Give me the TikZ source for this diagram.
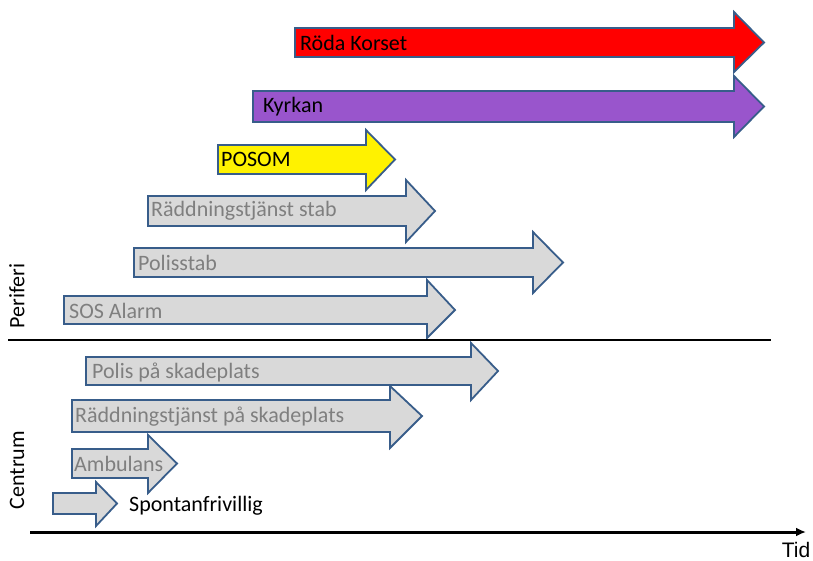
\documentclass[tikz,border=0pt]{standalone}
\usepackage{fontspec}
\usetikzlibrary{arrows.meta}
\setmainfont{Carlito}
\newfontfamily\arialfont{Liberation Sans}
\definecolor{bordc}{RGB}{56,93,138}
\definecolor{greyfill}{RGB}{217,217,217}
\definecolor{greytext}{RGB}{127,127,127}
\definecolor{purplefill}{RGB}{153,85,204}
\newcommand\blockarr[8]{%
  % #1 style, #2 left, #3 top, #4 bottom, #5 head base, #6 head top, #7 head bottom, #8 tip
  \draw[#1] (#2,#3) -- (#5,#3) -- (#5,#6) -- (#8,{(#3+#4)/2}) -- (#5,#7) -- (#5,#4) -- (#2,#4) -- cycle;}
\tikzset{
  arrbox/.style={draw=bordc, line width=1.8pt, line join=miter},
  greyarr/.style={arrbox, fill=greyfill},
  lbl/.style={anchor=west, inner sep=0pt, font=\fontsize{22}{24}\selectfont},
  greylbl/.style={lbl, text=greytext},
}
\begin{document}
\begin{tikzpicture}[x=1pt,y=-1pt]
\useasboundingbox (0,0) rectangle (813,560);
% Röda Korset
\blockarr{arrbox, fill=red}{295}{28}{57}{734}{12}{72}{764}
\node[lbl] (rk) at (300,42.5) {Röda Korset};
% Kyrkan
\blockarr{arrbox, fill=purplefill}{253}{91}{122}{734}{76}{137}{764}
\node[lbl] (ky) at (263,106.5) {Kyrkan};
% POSOM
\blockarr{arrbox, fill=yellow}{218}{145}{174}{366}{130}{190}{395}
\node[lbl] (po) at (221,159.5) {POSOM};
% Räddningstjänst stab
\blockarr{greyarr}{148}{196}{226}{406}{180}{242}{435}
\node[greylbl] (rs) at (151,211) {Räddningstjänst stab};
% Polisstab
\blockarr{greyarr}{134}{248}{277}{533}{232}{293}{563}
\node[greylbl] (ps) at (138,263) {Polisstab};
% SOS Alarm
\blockarr{greyarr}{64}{296}{324}{427}{280}{338}{455}
\node[greylbl] (sos) at (69,311) {SOS Alarm};
% divider
\draw[line width=1.8pt] (8,340) coordinate (d1) -- (771,340) coordinate (d2);
% Polis på skadeplats
\blockarr{greyarr}{86}{357}{385}{471}{343}{400}{498}
\node[greylbl] (pp) at (92,372) {Polis på skadeplats};
% Räddningstjänst på skadeplats
\blockarr{greyarr}{72}{400}{432}{390}{386}{448}{422}
\node[greylbl] (rp) at (75,417) {Räddningstjänst på skadeplats};
% Ambulans
\blockarr{greyarr}{72}{449}{478}{148}{435}{493}{177}
\node[greylbl] (am) at (74,464) {Ambulans};
% Spontanfrivillig
\blockarr{greyarr}{53}{493}{514}{96}{482}{526}{117}
\node[lbl] (sp) at (129,506) {Spontanfrivillig};
% side labels
\node[rotate=90, font=\fontsize{22}{24}\selectfont, inner sep=0pt] (per) at (17,296) {Periferi};
\node[rotate=90, font=\fontsize{22}{24}\selectfont, inner sep=0pt] (cen) at (17,470) {Centrum};
% time axis
\coordinate (t0) at (30,532);
\coordinate (t1) at (806,532);
\draw[line width=3pt, -{Latex[length=10pt,width=9pt]}] (t0) -- (t1);
\node[font=\arialfont\fontsize{21}{23}\selectfont, inner sep=0pt, anchor=base] (tid) at (796,557) {Tid};
\end{tikzpicture}
\end{document}
